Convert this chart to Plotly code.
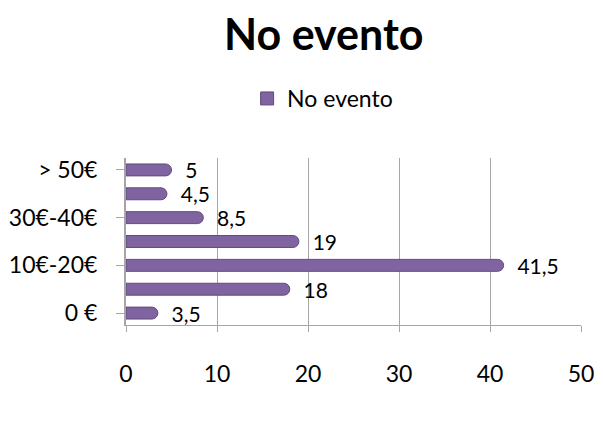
import plotly.graph_objects as go

categories = ["0 €", "1€-10€", "10€-20€", "20€-30€", "30€-40€", "40€-50€", "> 50€"]
values = [3.5, 18, 41.5, 19, 8.5, 4.5, 5]
shown_ticks = ["0 €", "10€-20€", "30€-40€", "> 50€"]
x_ticks = [0, 10, 20, 30, 40, 50]
series_name = "No evento"

FONT = "Lato, Liberation Sans, sans-serif"
PURPLE = "#8064A2"

fig = go.Figure()
fig.add_trace(go.Bar(
    y=categories, x=values, orientation="h", name=series_name,
    width=0.5,
    marker=dict(color=PURPLE, line=dict(color="#5F4B7A", width=1), cornerradius="50%"),
    text=values, texttemplate="  %{x}", textposition="outside", constraintext="none",
    textfont=dict(size=21, color="black"), cliponaxis=False,
    showlegend=False,
))
# legend entry (square swatch as in the reference)
fig.add_trace(go.Scatter(
    x=[None], y=[None], mode="markers", name=series_name,
    marker=dict(symbol="square", size=13, color=PURPLE, line=dict(color="#5F4B7A", width=1)),
    showlegend=True,
))

fig.update_layout(
    width=603, height=432,
    separators=",.",
    paper_bgcolor="white", plot_bgcolor="white",
    font=dict(family=FONT, color="black"),
    title=dict(text="<b>No evento</b>", x=0.537, xanchor="center", y=0.918, yanchor="middle",
               font=dict(size=43, family=FONT)),
    legend=dict(orientation="h", x=0.535, xref="container", xanchor="center",
                y=0.772, yref="container", yanchor="middle",
                font=dict(size=23), itemwidth=30),
    margin=dict(l=126, r=22, t=158, b=107),
    xaxis=dict(range=[0, 50], tickvals=x_ticks, showgrid=True, gridcolor="#A6A6A6",
               gridwidth=1, zeroline=False, showline=True, linecolor="#A6A6A6",
               ticks="outside", ticklen=6, tickcolor="#A6A6A6", automargin=False,
               tickfont=dict(size=23), ticklabelstandoff=22),
    yaxis=dict(categoryorder="array", categoryarray=categories, automargin=False,
               tickvals=shown_ticks, showgrid=False, showline=True, linecolor="#A6A6A6",
               linewidth=2, ticks="outside", ticklen=8, tickcolor="#A6A6A6",
               tickfont=dict(size=23), ticklabelstandoff=14),
)

fig.write_html("out.html")
